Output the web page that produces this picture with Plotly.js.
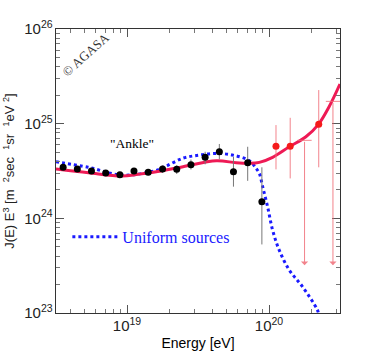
<!DOCTYPE html>
<html>
<head>
<meta charset="utf-8">
<script src="https://cdn.plot.ly/plotly-3.0.1.min.js"></script>
<style>
  html, body { margin: 0; padding: 0; background: #fff; }
  #chart { width: 368px; height: 354px; }
</style>
</head>
<body>
<div id="chart"></div>
<script>
// AGASA spectrum points below 1e20 eV (black)
const agasaE = [3.55e18, 4.47e18, 5.62e18, 7.08e18, 8.91e18, 1.12e19, 1.41e19, 1.78e19,
  2.24e19, 2.82e19, 3.55e19, 4.47e19, 5.62e19, 7.08e19, 8.91e19];
const agasaJ = [3.46e24, 3.32e24, 3.16e24, 3.01e24, 2.88e24, 3.16e24, 3.06e24, 3.32e24,
  3.29e24, 3.68e24, 4.41e24, 5.05e24, 3.10e24, 3.86e24, 1.50e24];
const agasaErrUp = [0.1e24, 0.1e24, 0.1e24, 0.1e24, 0.1e24, 0.15e24, 0.2e24, 0.3e24,
  0.35e24, 0.5e24, 0.64e24, 1.05e24, 1.37e24, 1.84e24, 1.96e24];
const agasaErrDown = [0.1e24, 0.1e24, 0.1e24, 0.1e24, 0.1e24, 0.15e24, 0.2e24, 0.3e24,
  0.35e24, 0.4e24, 0.69e24, 0.85e24, 0.94e24, 1.37e24, 0.97e24];

// points above 1e20 eV (red)
const highE = [1.12e20, 1.41e20, 2.24e20];
const highJ = [5.79e24, 5.79e24, 9.84e24];
const highErrUp = [3.87e24, 5.74e24, 12.8e24];
const highErrDown = [2.5e24, 3.15e24, 6.38e24];

// upper limits
const limitE = [1.78e20, 2.82e20];
const limitJ = [6.67e24, 1.72e25];
const limitArrowTo = 3.2e23;
const BIN_DEX = 0.1;

// model curves
const fitE = [3.16e18, 5.36e18, 9.18e18, 1.20e19, 1.57e19, 2.48e19, 4.26e19, 5.87e19,
  7.28e19, 8.55e19, 1.06e20, 1.39e20, 1.82e20, 2.23e20, 2.65e20, 3.16e20];
const fitJ = [3.32e24, 3.03e24, 2.80e24, 2.92e24, 3.08e24, 3.51e24, 4.06e24, 3.86e24,
  3.81e24, 3.90e24, 4.41e24, 5.70e24, 7.28e24, 9.84e24, 1.51e25, 2.62e25];

const uniformE = [3.16e18, 5.33e18, 9.23e18, 1.57e19, 1.85e19, 2.47e19, 3.25e19, 4.26e19,
  5.53e19, 7.28e19, 8.11e19, 8.55e19, 9.02e19, 9.77e19, 1.06e20, 1.18e20, 1.39e20,
  1.72e20, 2.19e20, 2.25e20];
const uniformJ = [3.96e24, 3.46e24, 2.86e24, 3.18e24, 3.51e24, 4.31e24, 4.66e24, 4.85e24,
  4.66e24, 4.06e24, 3.37e24, 2.99e24, 2.16e24, 1.33e24, 7.52e23, 4.62e23, 2.84e23,
  1.90e23, 1.08e23, 9.5e22];

// label anchor for the "Ankle" note
const ankleE = 1.08e19;
const ankleJ = 6.1e24;

const SANS = 'Liberation Sans, Arial, sans-serif';
const SERIF = 'Liberation Serif, Times New Roman, serif';
const LIMIT_COLOR = 'rgba(240,110,120,0.85)';

const halfBin = Math.pow(10, BIN_DEX / 2);

const traces = [
  {
    x: uniformE, y: uniformJ, mode: 'lines', name: 'Uniform sources',
    line: {color: '#1a1aff', width: 3, dash: 'dot', shape: 'spline'},
    showlegend: true,
  },
  {
    x: fitE, y: fitJ, mode: 'lines',
    line: {color: '#ee1a55', width: 3, shape: 'spline'},
    showlegend: false,
  },
  {
    x: agasaE, y: agasaJ, mode: 'markers',
    marker: {color: '#000', size: 7},
    error_y: {type: 'data', symmetric: false, array: agasaErrUp, arrayminus: agasaErrDown,
      color: '#777', thickness: 1, width: 0},
    showlegend: false,
  },
  {
    x: highE, y: highJ, mode: 'markers',
    marker: {color: '#f51a1a', size: 7},
    error_y: {type: 'data', symmetric: false, array: highErrUp, arrayminus: highErrDown,
      color: LIMIT_COLOR, thickness: 1, width: 0},
    showlegend: false,
  },
  {
    x: limitE, y: limitJ, mode: 'markers',
    marker: {size: 1, color: 'rgba(0,0,0,0)'},
    error_x: {type: 'data', symmetric: false,
      array: limitE.map(e => e * halfBin - e),
      arrayminus: limitE.map(e => e - e / halfBin),
      color: LIMIT_COLOR, thickness: 1, width: 0},
    showlegend: false,
  },
];

const annotations = limitE.map((e, i) => ({
  x: Math.log10(e), y: Math.log10(limitArrowTo),
  ax: Math.log10(e), ay: Math.log10(limitJ[i]),
  xref: 'x', yref: 'y', axref: 'x', ayref: 'y',
  text: '', showarrow: true, arrowhead: 1, arrowsize: 1.2, arrowwidth: 1,
  arrowcolor: LIMIT_COLOR,
}));

annotations.push(
  {
    x: 0.105, y: 0.91, xref: 'paper', yref: 'paper', xanchor: 'center', yanchor: 'middle',
    text: '\u00a9 AGASA', showarrow: false, textangle: -42,
    font: {family: SERIF, size: 13, color: '#333'},
  },
  {
    x: Math.log10(ankleE), y: Math.log10(ankleJ), xref: 'x', yref: 'y',
    xanchor: 'center', yanchor: 'middle',
    text: '"Ankle"', showarrow: false, font: {family: SERIF, size: 13.5, color: '#000'},
  }
);

const axisCommon = {
  type: 'log',
  dtick: 1,
  exponentformat: 'power',
  showexponent: 'all',
  ticks: 'inside',
  ticklen: 8,
  tickcolor: '#555',
  showline: true,
  linecolor: '#333',
  linewidth: 1,
  mirror: 'ticks',
  showgrid: false,
  zeroline: false,
  tickfont: {family: SANS, size: 12, color: '#222'},
  minor: {ticks: 'inside', ticklen: 4, tickcolor: '#777', showgrid: false},
};

const layout = {
  width: 368,
  height: 354,
  margin: {l: 56, r: 27.5, t: 29, b: 41},
  paper_bgcolor: '#fff',
  plot_bgcolor: '#fff',
  xaxis: Object.assign({}, axisCommon, {
    range: [18.5, 20.5],
    title: {text: 'Energy [eV]', font: {family: SANS, size: 14, color: '#000'}, standoff: 4},
  }),
  yaxis: Object.assign({}, axisCommon, {
    range: [23, 26],
    title: {
      text: 'J(E) E<sup>3</sup> [m  <sup>2</sup>sec  <sup>1</sup>sr  <sup>1</sup>eV <sup>2</sup>]',
      font: {family: SANS, size: 13, color: '#222'}, standoff: 6,
    },
  }),
  showlegend: true,
  legend: {
    x: 0.04, y: 0.268, xanchor: 'left', yanchor: 'middle',
    bgcolor: 'rgba(0,0,0,0)', borderwidth: 0,
    font: {family: SERIF, size: 16, color: '#1a1aff'},
    itemwidth: 45,
  },
  annotations: annotations,
};

Plotly.newPlot('chart', traces, layout, {displayModeBar: false, staticPlot: true});
</script>
</body>
</html>
